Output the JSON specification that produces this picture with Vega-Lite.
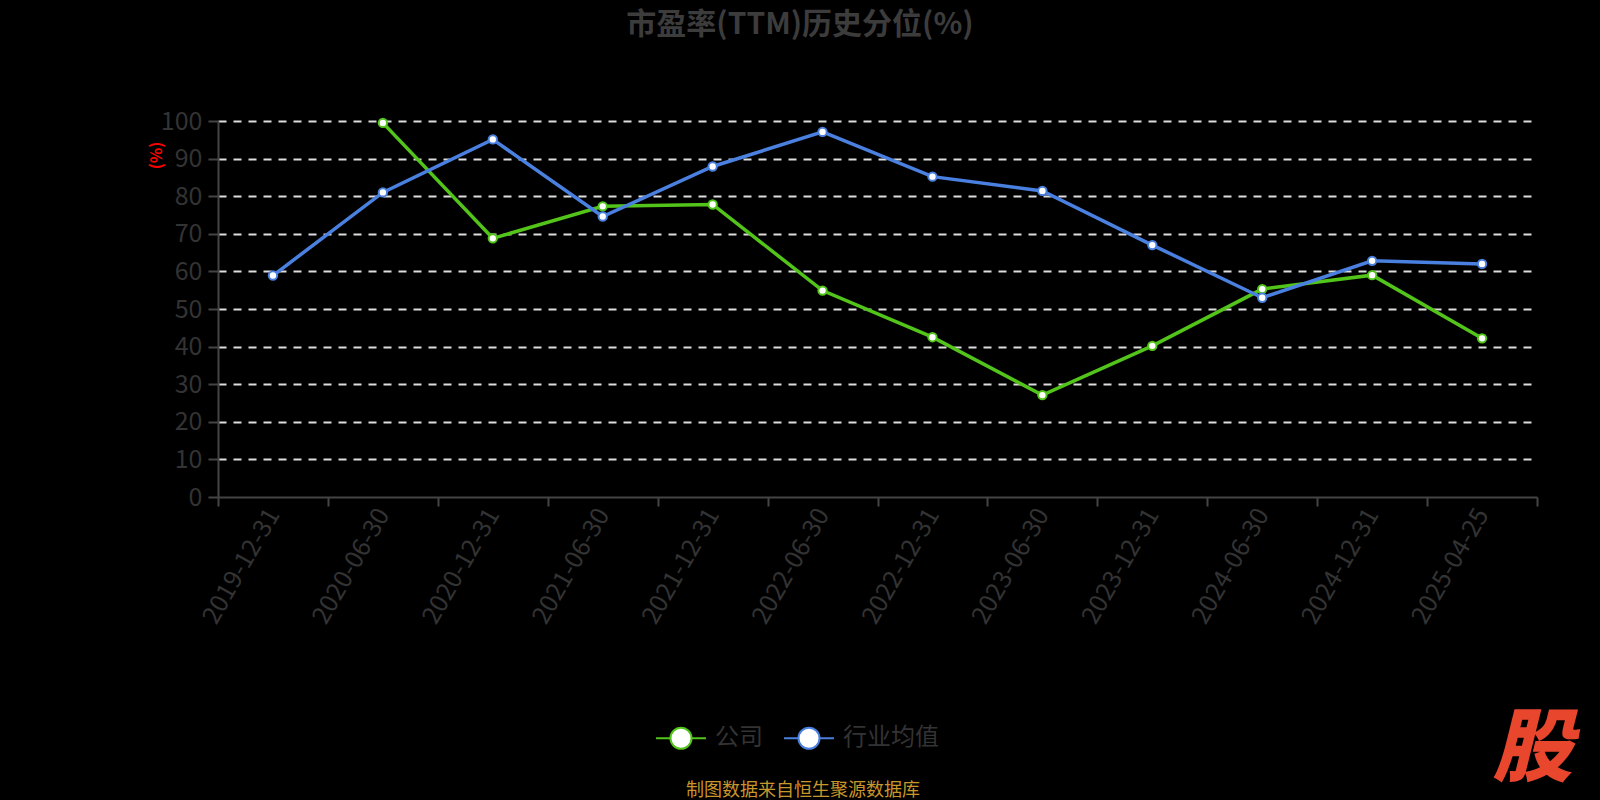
{
  "$schema": "https://vega.github.io/schema/vega-lite/v6.json",
  "width": 1319,
  "height": 376,
  "autosize": {"type": "none"},
  "padding": {"left": 218, "top": 121, "right": 63, "bottom": 303},
  "background": "#000000",
  "config": {"view": {"stroke": null}, "font": "Noto Sans CJK SC"},
  "title": {
    "text": "市盈率(TTM)历史分位(%)",
    "font": "Noto Sans CJK SC",
    "fontSize": 30,
    "fontWeight": "bold",
    "color": "#3c3c3c",
    "anchor": "middle",
    "frame": "group",
    "dx": -77.5,
    "offset": 39,
    "baseline": "bottom"
  },
  "data": {
    "values": [
      {"date": "2020-06-30", "series": "公司", "value": 99.5},
      {"date": "2020-12-31", "series": "公司", "value": 68.8},
      {"date": "2021-06-30", "series": "公司", "value": 77.3},
      {"date": "2021-12-31", "series": "公司", "value": 77.8},
      {"date": "2022-06-30", "series": "公司", "value": 54.9},
      {"date": "2022-12-31", "series": "公司", "value": 42.5},
      {"date": "2023-06-30", "series": "公司", "value": 27.1},
      {"date": "2023-12-31", "series": "公司", "value": 40.2},
      {"date": "2024-06-30", "series": "公司", "value": 55.3},
      {"date": "2024-12-31", "series": "公司", "value": 59.0},
      {"date": "2025-04-25", "series": "公司", "value": 42.2},
      {"date": "2019-12-31", "series": "行业均值", "value": 58.9},
      {"date": "2020-06-30", "series": "行业均值", "value": 81.0},
      {"date": "2020-12-31", "series": "行业均值", "value": 95.1},
      {"date": "2021-06-30", "series": "行业均值", "value": 74.6},
      {"date": "2021-12-31", "series": "行业均值", "value": 87.9},
      {"date": "2022-06-30", "series": "行业均值", "value": 97.1},
      {"date": "2022-12-31", "series": "行业均值", "value": 85.2},
      {"date": "2023-06-30", "series": "行业均值", "value": 81.4},
      {"date": "2023-12-31", "series": "行业均值", "value": 67.0},
      {"date": "2024-06-30", "series": "行业均值", "value": 53.0},
      {"date": "2024-12-31", "series": "行业均值", "value": 62.8},
      {"date": "2025-04-25", "series": "行业均值", "value": 62.0}
    ]
  },
  "encoding": {
    "x": {
      "field": "date",
      "type": "ordinal",
      "sort": "ascending",
      "scale": {"type": "band", "paddingInner": 0, "paddingOuter": 0},
      "axis": {
        "title": "股",
        "titleX": 1314,
        "titleY": 253,
        "titleAlign": "center",
        "titleBaseline": "middle",
        "titleAngle": 0,
        "titleFontSize": 80,
        "titleFont": "Noto Sans CJK SC",
        "titleFontWeight": 900,
        "titleFontStyle": "italic",
        "titleColor": "#e9462e",
        "labelAngle": -60,
        "labelFontSize": 25,
        "labelFont": "Noto Sans CJK SC",
        "labelColor": "#333333",
        "labelAlign": "right",
        "labelBaseline": "middle",
        "labelPadding": 4,
        "tickBand": "extent",
        "tickSize": 9,
        "tickColor": "#444444",
        "tickWidth": 2,
        "domainColor": "#444444",
        "domainWidth": 2,
        "grid": false
      }
    },
    "y": {
      "field": "value",
      "type": "quantitative",
      "scale": {"domain": [0, 100], "nice": false},
      "axis": {
        "title": "(%)",
        "titleColor": "#ff0000",
        "titleFontSize": 16,
        "titleFontWeight": "bold",
        "titleAngle": -90,
        "titleX": -62,
        "titleY": 34,
        "titleAlign": "center",
        "titleBaseline": "middle",
        "values": [0, 10, 20, 30, 40, 50, 60, 70, 80, 90, 100],
        "labelFontSize": 25,
        "labelFont": "Noto Sans CJK SC",
        "labelColor": "#333333",
        "labelPadding": 6,
        "tickSize": 10,
        "tickColor": "#444444",
        "tickWidth": 2,
        "domainColor": "#444444",
        "domainWidth": 2,
        "grid": true,
        "gridColor": "#dddddd",
        "gridDash": [8, 7],
        "gridWidth": 2,
        "gridOpacity": {"condition": {"test": "datum.value === 0", "value": 0}, "value": 1}
      }
    }
  },
  "layer": [
    {
      "mark": {"type": "line", "strokeWidth": 3.5},
      "encoding": {
        "color": {
          "field": "series",
          "type": "nominal",
          "scale": {"domain": ["公司", "行业均值"], "range": ["#52c41a", "#4a80e0"]},
          "legend": {
            "orient": "none",
            "legendX": 450,
            "legendY": 604,
            "direction": "horizontal",
            "title": "制图数据来自恒生聚源数据库",
            "titleOrient": "bottom",
            "titleAnchor": "middle",
            "titlePadding": 29,
            "titleFontSize": 18,
            "titleFont": "Noto Sans CJK SC",
            "titleFontWeight": "normal",
            "titleColor": "#c9962b",
            "titleBaseline": "top",
            "titleLimit": 600,
            "labelFontSize": 24,
            "labelFont": "Noto Sans CJK SC",
            "labelColor": "#333333",
            "labelOffset": 21,
            "columnPadding": 17,
            "padding": 0,
            "symbolType": "M-2.08,0H-0.875M0.875,0H2.08M0.875,0A0.875,0.875,0,1,1,-0.875,0A0.875,0.875,0,1,1,0.875,0Z",
            "symbolSize": 576,
            "symbolStrokeWidth": 2,
            "encode": {"symbols": {"update": {"fill": {"value": "#ffffff"}, "strokeWidth": {"value": 2}, "opacity": {"value": 1}}}}
          }
        }
      }
    },
    {
      "mark": {"type": "point", "filled": false, "fill": "#ffffff", "size": 70, "strokeWidth": 2, "opacity": 1},
      "encoding": {
        "color": {
          "field": "series",
          "type": "nominal",
          "scale": {"domain": ["公司", "行业均值"], "range": ["#52c41a", "#4a80e0"]},
          "legend": null
        }
      }
    }
  ]
}
